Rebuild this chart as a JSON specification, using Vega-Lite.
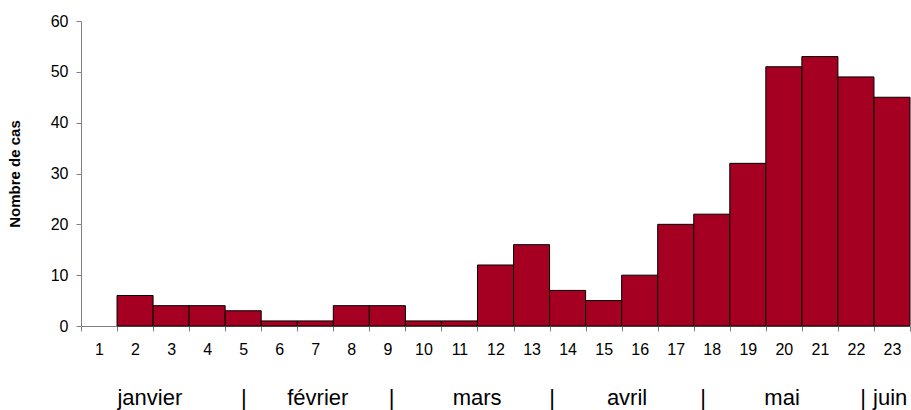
{
  "$schema": "https://vega.github.io/schema/vega-lite/v6.json",
  "width": 829,
  "height": 305,
  "autosize": {"type": "none"},
  "padding": {"left": 81, "top": 21, "right": 1, "bottom": 84},
  "background": "white",
  "config": {
    "view": {"stroke": null},
    "font": "Liberation Sans",
    "axis": {"domainColor": "#808080", "tickColor": "#808080", "labelColor": "black", "labelFont": "Liberation Sans", "labelFontSize": 16, "grid": false, "tickSize": 5}
  },
  "datasets": {
    "weeks": [
      {"semaine": 1, "cas": 0}, {"semaine": 2, "cas": 6}, {"semaine": 3, "cas": 4}, {"semaine": 4, "cas": 4},
      {"semaine": 5, "cas": 3}, {"semaine": 6, "cas": 1}, {"semaine": 7, "cas": 1}, {"semaine": 8, "cas": 4},
      {"semaine": 9, "cas": 4}, {"semaine": 10, "cas": 1}, {"semaine": 11, "cas": 1}, {"semaine": 12, "cas": 12},
      {"semaine": 13, "cas": 16}, {"semaine": 14, "cas": 7}, {"semaine": 15, "cas": 5}, {"semaine": 16, "cas": 10},
      {"semaine": 17, "cas": 20}, {"semaine": 18, "cas": 22}, {"semaine": 19, "cas": 32}, {"semaine": 20, "cas": 51},
      {"semaine": 21, "cas": 53}, {"semaine": 22, "cas": 49}, {"semaine": 23, "cas": 45}
    ],
    "mois": [
      {"pos": 2.41, "txt": "janvier"}, {"pos": 5.02, "txt": "|"},
      {"pos": 7.07, "txt": "février"}, {"pos": 9.12, "txt": "|"},
      {"pos": 11.49, "txt": "mars"}, {"pos": 13.57, "txt": "|"},
      {"pos": 15.65, "txt": "avril"}, {"pos": 17.76, "txt": "|"},
      {"pos": 19.95, "txt": "mai"}, {"pos": 22.2, "txt": "|"},
      {"pos": 22.95, "txt": "juin"}
    ]
  },
  "layer": [
    {
      "data": {"name": "weeks"},
      "transform": [{"filter": "datum.cas > 0"}],
      "mark": {"type": "bar", "color": "#A50021", "stroke": "black", "strokeWidth": 1},
      "encoding": {
        "x": {
          "field": "semaine", "type": "ordinal",
          "scale": {"domain": [1,2,3,4,5,6,7,8,9,10,11,12,13,14,15,16,17,18,19,20,21,22,23], "paddingInner": 0, "paddingOuter": 0},
          "axis": {"title": null, "labelAngle": 0, "tickBand": "extent", "labelPadding": 10}
        },
        "y": {
          "field": "cas", "type": "quantitative",
          "scale": {"domain": [0, 60], "nice": false},
          "axis": {"title": "Nombre de cas", "titleFont": "Liberation Sans", "titleFontSize": 15, "titleFontWeight": "bold", "titleColor": "black", "values": [0,10,20,30,40,50,60], "labelPadding": 8, "titlePadding": 28}
        }
      }
    },
    {
      "data": {"name": "mois"},
      "mark": {"type": "text", "font": "Liberation Sans", "fontSize": 22, "color": "black", "baseline": "alphabetic", "align": "center"},
      "encoding": {
        "x": {"field": "pos", "type": "quantitative", "scale": {"domain": [0.5, 23.5], "nice": false, "zero": false}, "axis": null},
        "y": {"datum": -15.5, "type": "quantitative"},
        "text": {"field": "txt"}
      }
    }
  ],
  "resolve": {"scale": {"x": "independent"}}
}
